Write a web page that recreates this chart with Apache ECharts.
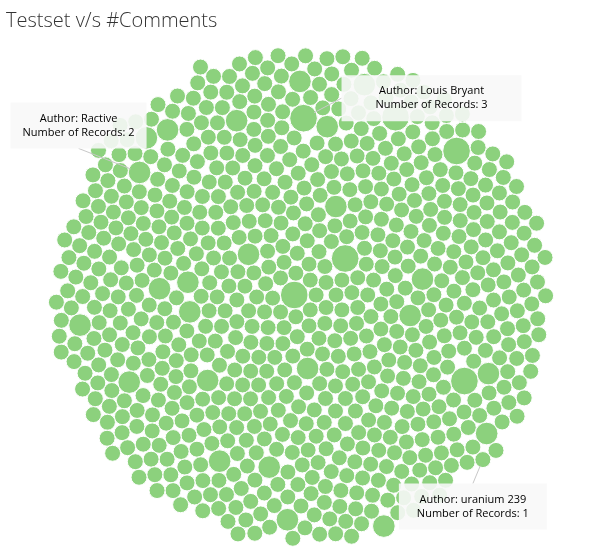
<!DOCTYPE html>
<html><head><meta charset="utf-8">
<script src="https://cdn.jsdelivr.net/npm/echarts@6/dist/echarts.min.js"></script>
<style>html,body{margin:0;padding:0;background:#fff}#c{width:602px;height:550px}</style>
</head><body><div id="c"></div>
<script>
// ---- data ----
const titleText = 'Testset v/s #Comments';
const totalAuthors = 756;   // one bubble per author; most authors have 1 record
const multiRecordIndex = [0, 24, 50, 67, 95, 128, 143, 164, 171, 185, 238, 335, 343, 363, 382, 402, 426, 439, 456, 491, 498, 508, 531, 538, 552, 571, 588, 613, 620, 678];
const multiRecordCount = [3, 3, 2, 2, 2, 2, 2, 2, 2, 2, 2, 2, 3, 2, 3, 2, 2, 2, 3, 2, 2, 2, 2, 3, 2, 2, 2, 2, 2, 2];
const calloutAuthor = ['Louis Bryant', 'Ractive', 'uranium 239'];
const calloutRecords = [3, 2, 1];
const calloutIndex = [343, 491, 717];

// ---- records per author ----
const records = [];
for (let i = 0; i < totalAuthors; i++) records.push(1);
multiRecordIndex.forEach((idx, k) => { records[idx] = multiRecordCount[k]; });
calloutIndex.forEach((idx, k) => { records[idx] = calloutRecords[k]; });

// ---- front-chain circle packing (as in d3 packSiblings) ----
function place(b, a, c) {
  let dx = b.x - a.x, dy = b.y - a.y, d2 = dx * dx + dy * dy, x, y, a2, b2;
  if (d2) {
    a2 = a.r + c.r; a2 *= a2; b2 = b.r + c.r; b2 *= b2;
    if (a2 > b2) { x = (d2 + b2 - a2) / (2 * d2); y = Math.sqrt(Math.max(0, b2 / d2 - x * x)); c.x = b.x - x * dx - y * dy; c.y = b.y - x * dy + y * dx; }
    else { x = (d2 + a2 - b2) / (2 * d2); y = Math.sqrt(Math.max(0, a2 / d2 - x * x)); c.x = a.x + x * dx - y * dy; c.y = a.y + x * dy + y * dx; }
  } else { c.x = a.x + c.r; c.y = a.y; }
}
function intersects(a, b) { const dr = a.r + b.r - 1e-6, dx = b.x - a.x, dy = b.y - a.y; return dr > 0 && dr * dr > dx * dx + dy * dy; }
function score(node) { const a = node._, b = node.next._, ab = a.r + b.r, dx = (a.x * b.r + b.x * a.r) / ab, dy = (a.y * b.r + b.y * a.r) / ab; return dx * dx + dy * dy; }
function Node(c) { this._ = c; this.next = null; this.previous = null; }
function packSiblings(circles) {
  const n = circles.length; let a, b, c, aa, ca, i, j, k, sj, sk;
  a = circles[0]; a.x = 0; a.y = 0; if (n < 2) return;
  b = circles[1]; a.x = -b.r; b.x = a.r; b.y = 0; if (n < 3) return;
  place(b, a, c = circles[2]);
  a = new Node(a); b = new Node(b); c = new Node(c);
  a.next = c.previous = b; b.next = a.previous = c; c.next = b.previous = a;
  pack: for (i = 3; i < n; ++i) {
    place(a._, b._, c = circles[i]); c = new Node(c);
    j = b.next; k = a.previous; sj = b._.r; sk = a._.r;
    do {
      if (sj <= sk) { if (intersects(j._, c._)) { b = j; a.next = b; b.previous = a; --i; continue pack; } sj += j._.r; j = j.next; }
      else { if (intersects(k._, c._)) { a = k; a.next = b; b.previous = a; --i; continue pack; } sk += k._.r; k = k.previous; }
    } while (j !== k.next);
    c.previous = a; c.next = b; a.next = b.previous = b = c;
    aa = score(a);
    while ((c = c.next) !== b) { if ((ca = score(c)) < aa) { a = c; aa = ca; } }
    b = a.next;
  }
}

// bubble area proportional to number of records
const unitR = 8;
const circles = records.map(v => ({ r: unitR * Math.sqrt(v), v: v }));
packSiblings(circles);
let x0 = Infinity, x1 = -Infinity, y0 = Infinity, y1 = -Infinity;
circles.forEach(c => { x0 = Math.min(x0, c.x - c.r); x1 = Math.max(x1, c.x + c.r); y0 = Math.min(y0, c.y - c.r); y1 = Math.max(y1, c.y + c.r); });
const centerX = 301, centerY = 297;
const mx = (x0 + x1) / 2, my = (y0 + y1) / 2;
const bubbleData = circles.map(c => [c.x - mx + centerX, c.y - my + centerY, c.r, c.v]);

// ---- callout boxes (offsets from their bubble) ----
const calloutLayout = [
  { dx: 38, dy: -43, w: 180, anchor: 'left' },
  { dx: -129, dy: -70, w: 136, anchor: 'bottom' },
  { dx: -84, dy: 24, w: 148, anchor: 'top' }
];
const calloutData = calloutIndex.map((idx, k) => [bubbleData[idx][0], bubbleData[idx][1], bubbleData[idx][2], k]);

const txtA = { fontFamily: 'Open Sans', fontSize: 11, color: '#6e6e6e' };
const txtB = { fontFamily: 'Open Sans', fontSize: 11, color: '#333333' };

const chart = echarts.init(document.getElementById('c'));
chart.setOption({
  animation: false,
  backgroundColor: '#fff',
  title: { text: titleText, left: 1, top: 6, textStyle: { fontFamily: 'Open Sans', fontWeight: 300, fontSize: 20, color: '#333' } },
  grid: { left: 0, right: 0, top: 0, bottom: 0 },
  xAxis: { type: 'value', min: 0, max: 602, show: false },
  yAxis: { type: 'value', min: 0, max: 550, inverse: true, show: false },
  series: [
    {
      type: 'custom', data: bubbleData, silent: true,
      renderItem: (params, api) => {
        const p = api.coord([api.value(0), api.value(1)]);
        const r = Math.abs(api.size([api.value(2), 0])[0]);
        return { type: 'circle', shape: { cx: p[0], cy: p[1], r: r }, style: { fill: '#8CD17D', stroke: '#fff', lineWidth: 1 } };
      }
    },
    {
      type: 'custom', data: calloutData, silent: true, z: 5,
      renderItem: (params, api) => {
        const p = api.coord([api.value(0), api.value(1)]);
        const r = Math.abs(api.size([api.value(2), 0])[0]);
        const k = api.value(3);
        const L = calloutLayout[k];
        const bx = p[0] + L.dx, by = p[1] + L.dy, bw = L.w, bh = 46;
        let ax, ay;
        if (L.anchor === 'left') { ax = bx; ay = by + 23; }
        else if (L.anchor === 'bottom') { ax = bx + bw / 2; ay = by + bh; }
        else { ax = bx + bw / 2; ay = by; }
        const vx = ax - p[0], vy = ay - p[1], vl = Math.sqrt(vx * vx + vy * vy);
        const ex = p[0] + vx / vl * r * 0.85, ey = p[1] + vy / vl * r * 0.85;
        return {
          type: 'group', children: [
            { type: 'line', shape: { x1: ax, y1: ay, x2: ex, y2: ey }, style: { stroke: '#c8c8c8', lineWidth: 1 } },
            { type: 'rect', shape: { x: bx, y: by, width: bw, height: bh }, style: { fill: 'rgba(248,248,248,0.89)' } },
            { type: 'text', x: bx + bw / 2, y: by + 16, style: { text: '{a|Author: }{b|' + calloutAuthor[k] + '}', align: 'center', verticalAlign: 'middle', rich: { a: txtA, b: txtB } } },
            { type: 'text', x: bx + bw / 2, y: by + 30, style: { text: '{a|Number of Records: }{b|' + calloutRecords[k] + '}', align: 'center', verticalAlign: 'middle', rich: { a: txtA, b: txtB } } }
          ]
        };
      }
    }
  ]
});
</script></body></html>
